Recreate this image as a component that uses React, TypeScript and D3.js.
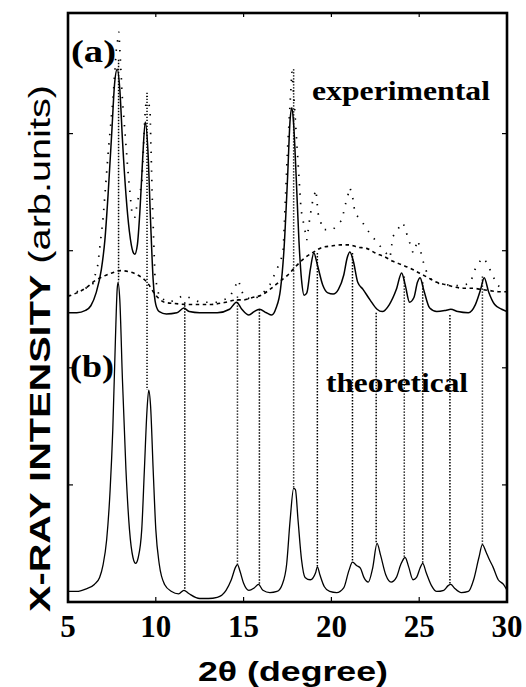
import React, { useEffect, useRef } from 'react'
import * as d3 from 'd3'

// 2theta (degree) / intensity (arb. units)
const theoX = [5.0, 5.5, 6.0, 6.5, 6.8, 7.0, 7.2, 7.4, 7.55, 7.7, 7.8, 7.85, 7.95, 8.1, 8.3, 8.5, 8.7, 8.85, 9.0, 9.2, 9.35, 9.5, 9.6, 9.7, 9.85, 10.0, 10.2, 10.5, 10.9, 11.3, 11.6, 11.9, 12.5, 13.0, 13.5, 14.0, 14.3, 14.55, 14.65, 14.8, 15.0, 15.3, 15.6, 15.85, 16.1, 16.5, 16.9, 17.2, 17.45, 17.65, 17.85, 17.95, 18.1, 18.3, 18.5, 18.8, 19.1, 19.2, 19.35, 19.6, 19.9, 20.3, 20.7, 21.0, 21.2, 21.45, 21.65, 21.85, 22.1, 22.35, 22.6, 22.8, 23.1, 23.4, 23.7, 23.95, 24.2, 24.4, 24.65, 24.85, 25.05, 25.2, 25.4, 25.7, 26.0, 26.4, 26.65, 26.8, 27.0, 27.4, 27.8, 28.1, 28.4, 28.6, 28.8, 29.0, 29.2, 29.5, 29.8, 30.0]
const theoY = [0.09, 0.09, 0.11, 0.15, 0.21, 0.32, 0.53, 0.96, 1.47, 2.24, 2.67, 2.73, 2.58, 1.9, 1.13, 0.62, 0.38, 0.33, 0.38, 0.62, 1.13, 1.64, 1.81, 1.68, 1.13, 0.62, 0.32, 0.15, 0.09, 0.07, 0.1, 0.07, 0.03, 0.03, 0.04, 0.1, 0.19, 0.3, 0.32, 0.26, 0.16, 0.1, 0.12, 0.15, 0.1, 0.08, 0.09, 0.15, 0.32, 0.7, 0.97, 0.96, 0.7, 0.36, 0.21, 0.19, 0.25, 0.3, 0.23, 0.13, 0.09, 0.08, 0.12, 0.27, 0.34, 0.31, 0.29, 0.21, 0.17, 0.29, 0.5, 0.4, 0.23, 0.17, 0.21, 0.32, 0.38, 0.3, 0.19, 0.21, 0.29, 0.33, 0.25, 0.14, 0.09, 0.1, 0.14, 0.15, 0.12, 0.08, 0.09, 0.19, 0.38, 0.49, 0.43, 0.36, 0.3, 0.19, 0.15, 0.1]

const expX = [5.0, 5.5, 6.0, 6.3, 6.6, 6.9, 7.1, 7.3, 7.5, 7.65, 7.8, 7.95, 8.1, 8.3, 8.5, 8.7, 8.8, 8.95, 9.1, 9.25, 9.4, 9.55, 9.7, 9.85, 10.0, 10.2, 10.6, 11.2, 11.6, 11.9, 12.5, 13.5, 14.2, 14.6, 14.9, 15.3, 15.6, 15.9, 16.3, 16.6, 16.85, 17.1, 17.3, 17.5, 17.65, 17.75, 17.85, 18.0, 18.15, 18.3, 18.45, 18.6, 18.8, 19.0, 19.2, 19.5, 19.8, 20.1, 20.4, 20.7, 20.9, 21.05, 21.25, 21.5, 21.8, 22.2, 22.6, 22.9, 23.3, 23.7, 24.0, 24.2, 24.45, 24.7, 24.9, 25.05, 25.25, 25.6, 26.0, 26.5, 26.8, 27.2, 27.8, 28.2, 28.5, 28.7, 28.95, 29.3, 29.7, 30.0]
const expY = [2.47, 2.47, 2.49, 2.53, 2.64, 2.84, 3.09, 3.52, 4.03, 4.42, 4.55, 4.38, 3.95, 3.48, 3.16, 2.99, 2.97, 3.05, 3.35, 3.78, 4.1, 3.86, 3.26, 2.75, 2.54, 2.48, 2.46, 2.47, 2.51, 2.48, 2.47, 2.47, 2.5, 2.56, 2.5, 2.45, 2.48, 2.5, 2.47, 2.45, 2.51, 2.67, 3.01, 3.61, 4.12, 4.22, 4.08, 3.61, 3.09, 2.75, 2.62, 2.64, 2.84, 2.98, 2.88, 2.71, 2.64, 2.63, 2.67, 2.79, 2.94, 2.99, 2.91, 2.73, 2.67, 2.58, 2.5, 2.48, 2.54, 2.67, 2.81, 2.71, 2.56, 2.6, 2.73, 2.77, 2.67, 2.51, 2.48, 2.49, 2.5, 2.48, 2.47, 2.54, 2.67, 2.77, 2.65, 2.54, 2.5, 2.48]

const bgX = [5.0, 5.5, 6.0, 6.5, 7.0, 7.5, 8.0, 8.5, 9.0, 9.5, 10.0, 10.5, 11.0, 12.0, 13.0, 14.0, 14.6, 15.0, 15.5, 16.0, 16.5, 17.0, 17.5, 18.0, 18.5, 19.0, 19.5, 20.0, 20.5, 21.0, 21.5, 22.0, 22.5, 23.0, 23.5, 24.0, 24.5, 25.0, 25.5, 26.0, 26.5, 27.0, 27.5, 28.0, 28.5, 29.0, 29.5, 30.0]
const bgY = [2.61, 2.64, 2.68, 2.74, 2.78, 2.81, 2.83, 2.82, 2.79, 2.73, 2.62, 2.56, 2.55, 2.54, 2.54, 2.56, 2.58, 2.58, 2.6, 2.62, 2.67, 2.73, 2.79, 2.87, 2.94, 2.99, 3.03, 3.04, 3.05, 3.05, 3.03, 3.02, 2.98, 2.95, 2.91, 2.88, 2.85, 2.81, 2.77, 2.73, 2.71, 2.69, 2.68, 2.68, 2.67, 2.66, 2.65, 2.65]

const rawX = [5.0, 5.5, 6.0, 6.37, 6.7, 7.0, 7.3, 7.56, 7.75, 7.9, 8.1, 8.42, 8.64, 8.8, 8.99, 9.2, 9.4, 9.5, 9.67, 9.8, 9.95, 10.2, 10.8, 11.6, 12.5, 13.5, 14.2, 14.7, 15.0, 15.5, 16.0, 16.5, 17.07, 17.25, 17.5, 17.75, 17.9, 18.27, 18.6, 18.78, 18.95, 19.12, 19.24, 19.52, 20.09, 20.32, 20.6, 20.77, 21.06, 21.23, 21.34, 21.74, 22.03, 22.6, 23.34, 23.5, 23.9, 24.08, 24.65, 24.93, 25.2, 25.44, 25.79, 26.5, 27.3, 27.9, 28.18, 28.58, 28.86, 29.03, 29.43, 29.77, 30.0]
const rawY = [2.62, 2.65, 2.68, 2.69, 2.88, 3.28, 3.86, 4.29, 4.72, 4.87, 4.29, 3.67, 3.32, 3.28, 3.44, 3.56, 4.21, 4.32, 4.21, 3.44, 2.78, 2.6, 2.56, 2.62, 2.56, 2.56, 2.6, 2.75, 2.61, 2.58, 2.62, 2.71, 2.9, 2.98, 3.86, 4.53, 4.23, 3.35, 3.09, 3.29, 3.44, 3.52, 3.32, 3.18, 3.18, 3.22, 3.26, 3.38, 3.54, 3.44, 3.32, 3.25, 3.18, 3.07, 2.94, 3.12, 3.21, 3.24, 2.98, 3.09, 2.92, 2.81, 2.73, 2.71, 2.7, 2.72, 2.84, 2.94, 2.9, 2.84, 2.71, 2.67, 2.65]

// dotted guide lines linking theoretical peaks to the experimental pattern
const refPos = [7.88, 9.5, 11.65, 14.65, 15.9, 17.85, 19.2, 21.2, 22.55, 24.15, 25.2, 26.75, 28.6]
const refTop = [4.63, 4.35, 2.56, 2.61, 2.5, 4.55, 2.98, 2.98, 2.47, 2.78, 2.73, 2.45, 2.78]
const refBottom = [2.73, 1.81, 0.1, 0.32, 0.15, 0.97, 0.3, 0.34, 0.5, 0.38, 0.33, 0.15, 0.49]

const xTicks = [5, 10, 15, 20, 25, 30]
const yTicks = [1, 2, 3, 4]

const serif = '"Liberation Serif", "Times New Roman", serif'
const sans = '"Liberation Sans", Arial, sans-serif'

export default function App() {
  const ref = useRef<SVGSVGElement>(null)

  useEffect(() => {
    const svg = d3.select(ref.current)
    svg.selectAll('*').remove()

    const x = d3.scaleLinear().domain([5, 30]).range([68, 507])
    const y = d3.scaleLinear().domain([0, 5.03]).range([602, 13])

    const line = (xs: number[], ys: number[], curve: d3.CurveFactory) =>
      d3.line<number>().x(d => x(xs[d])).y(d => y(ys[d])).curve(curve)(d3.range(xs.length))

    const g = svg.append('g')

    // guide lines
    g.selectAll('.ref')
      .data(refPos)
      .enter()
      .append('line')
      .attr('x1', d => x(d)).attr('x2', d => x(d))
      .attr('y1', (d, i) => y(refTop[i])).attr('y2', (d, i) => y(refBottom[i]))
      .attr('stroke', '#000').attr('stroke-width', 1.5)
      .attr('stroke-dasharray', '1.4,1.6')

    // raw experimental points
    g.append('path')
      .attr('d', line(rawX, rawY, d3.curveLinear))
      .attr('fill', 'none').attr('stroke', '#000').attr('stroke-width', 1.7)
      .attr('stroke-dasharray', '1.4,8')

    // amorphous background
    g.append('path')
      .attr('d', line(bgX, bgY, d3.curveMonotoneX))
      .attr('fill', 'none').attr('stroke', '#000').attr('stroke-width', 1.6)
      .attr('stroke-dasharray', '3.5,3.5')

    g.append('path')
      .attr('d', line(expX, expY, d3.curveMonotoneX))
      .attr('fill', 'none').attr('stroke', '#000').attr('stroke-width', 1.5)

    g.append('path')
      .attr('d', line(theoX, theoY, d3.curveMonotoneX))
      .attr('fill', 'none').attr('stroke', '#000').attr('stroke-width', 1.3)

    // frame and ticks
    g.append('rect')
      .attr('x', x(5)).attr('y', y(5.03))
      .attr('width', x(30) - x(5)).attr('height', y(0) - y(5.03))
      .attr('fill', 'none').attr('stroke', '#000').attr('stroke-width', 2.6)

    const inner = xTicks.slice(1, -1)
    g.selectAll('.xt')
      .data(inner)
      .enter()
      .append('line')
      .attr('x1', d => x(d)).attr('x2', d => x(d))
      .attr('y1', y(0)).attr('y2', y(0) - 5)
      .attr('stroke', '#000').attr('stroke-width', 1.2)
    g.selectAll('.xtt')
      .data(inner)
      .enter()
      .append('line')
      .attr('x1', d => x(d)).attr('x2', d => x(d))
      .attr('y1', y(5.03)).attr('y2', y(5.03) + 4)
      .attr('stroke', '#000').attr('stroke-width', 1.2)
    g.selectAll('.yt')
      .data(yTicks)
      .enter()
      .append('line')
      .attr('x1', x(5)).attr('x2', x(5) + 5)
      .attr('y1', d => y(d)).attr('y2', d => y(d))
      .attr('stroke', '#000').attr('stroke-width', 1.2)
    g.selectAll('.ytr')
      .data(yTicks)
      .enter()
      .append('line')
      .attr('x1', x(30)).attr('x2', x(30) - 5)
      .attr('y1', d => y(d)).attr('y2', d => y(d))
      .attr('stroke', '#000').attr('stroke-width', 1.2)

    g.selectAll('.xl')
      .data(xTicks)
      .enter()
      .append('text')
      .attr('x', d => x(d)).attr('y', 637)
      .attr('text-anchor', 'middle')
      .attr('font-family', serif).attr('font-weight', 'bold').attr('font-size', 31)
      .text(d => d)

    const label = (t: string, lx: number, ly: number, size: number, len: number) =>
      g.append('text')
        .attr('x', lx).attr('y', ly)
        .attr('font-family', serif).attr('font-weight', 'bold').attr('font-size', size)
        .attr('textLength', len).attr('lengthAdjust', 'spacingAndGlyphs')
        .text(t)

    label('(a)', 71, 62, 32, 45)
    label('(b)', 70, 377, 32, 44)
    label('experimental', 312, 100, 27, 178)
    label('theoretical', 326, 392, 27, 142)

    const xt = g.append('text')
      .attr('x', 198).attr('y', 681)
      .attr('font-family', sans).attr('font-weight', 'bold').attr('font-size', 27)
      .attr('textLength', 190).attr('lengthAdjust', 'spacingAndGlyphs')
    xt.append('tspan').text('2θ')
    xt.append('tspan').text(' (degree)')

    const yt = g.append('text')
      .attr('transform', 'translate(50,612) rotate(-90)')
      .attr('font-family', sans).attr('font-size', 30)
      .attr('textLength', 527).attr('lengthAdjust', 'spacingAndGlyphs')
    yt.append('tspan').attr('font-weight', 'bold').text('X-RAY INTENSITY')
    yt.append('tspan').attr('font-weight', 'normal').text(' (arb.units)')
  }, [])

  return (
    <svg ref={ref} width={526} height={687}
      style={{ position: 'absolute', left: 0, top: 0, background: '#fff' }} />
  )
}
